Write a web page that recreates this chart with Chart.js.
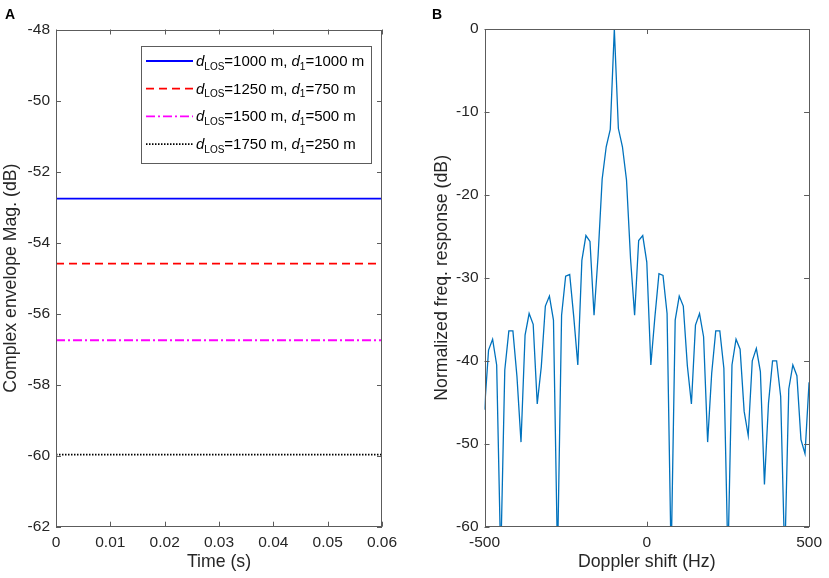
<!DOCTYPE html>
<html>
<head>
<meta charset="utf-8">
<script src="https://cdn.jsdelivr.net/npm/chart.js@4.4.0/dist/chart.umd.min.js"></script>
<style>
    body { margin: 0; background: #fff; font-family: "Liberation Sans", Arial, sans-serif; }
    #page { position: relative; width: 829px; height: 578px; overflow: hidden; }
    canvas { position: absolute; top: 0; }
    #chartA { left: 0; }
    #chartB { left: 420px; }
    .tag { position: absolute; top: 7px; font-size: 14px; line-height: 14px; font-weight: bold; color: #000; }
</style>
</head>
<body>
<div id="page">
    <canvas id="chartA" width="420" height="578"></canvas>
    <canvas id="chartB" width="409" height="578"></canvas>
    <div class="tag" style="left:5px">A</div>
    <div class="tag" style="left:432px">B</div>
</div>
<script>
// ---- panel A data ----
const timeRange = [0, 0.06];
const timeTicks = [0, 0.01, 0.02, 0.03, 0.04, 0.05, 0.06];
const magTicks = [-62, -60, -58, -56, -54, -52, -50, -48];
const losDistances = [1000, 1250, 1500, 1750];
const reflDistances = [1000, 750, 500, 250];
const envelopeDb = [-52.76, -54.59, -56.75, -59.97];

// ---- panel B data ----
const dopplerHz = [
    -500, -487.5, -475, -462.5, -450, -437.5, -425, -412.5, -400, -387.5,
    -375, -362.5, -350, -337.5, -325, -312.5, -300, -287.5, -275, -262.5,
    -250, -237.5, -225, -212.5, -200, -187.5, -175, -162.5, -150, -137.5,
    -125, -112.5, -100, -87.5, -75, -62.5, -50, -37.5, -25, -12.5,
    0, 12.5, 25, 37.5, 50, 62.5, 75, 87.5, 100, 112.5,
    125, 137.5, 150, 162.5, 175, 187.5, 200, 212.5, 225, 237.5,
    250, 262.5, 275, 287.5, 300, 312.5, 325, 337.5, 350, 362.5,
    375, 387.5, 400, 412.5, 425, 437.5, 450, 462.5, 475, 487.5, 500
];
const responseDb = [
    -45.9, -38.7, -37.4, -40.5, -64, -41.1, -36.4, -36.4, -41.9, -49.8,
    -36.9, -34.3, -35.6, -45.2, -40.7, -33.4, -32.2, -35.1, -64, -34.5,
    -29.8, -29.6, -34.7, -40.5, -27.9, -24.9, -25.6, -34.5, -27.3, -18.1,
    -14.2, -12.1, 0, -12.0, -14.2, -18.2, -27.7, -34.5, -25.5, -24.9,
    -28.1, -40.5, -34.7, -29.5, -29.7, -34.3, -64, -35.1, -32.2, -33.4,
    -40.6, -45.2, -35.7, -34.3, -37.1, -49.8, -41.5, -36.4, -36.4, -40.9,
    -64, -40.5, -37.4, -38.6, -46.1, -49.0, -40.0, -38.5, -41.3, -54.9,
    -45.1, -40.0, -40.0, -44.3, -64, -43.4, -40.5, -41.8, -49.5, -51.2, -42.6
];
const dopplerTicks = [-500, 0, 500];
const responseTicks = [-60, -50, -40, -30, -20, -10, 0];

// line looks for the four envelope curves
const lineStyles = [
    { color: "#0000ff", dash: [], width: 1.8 },
    { color: "#ff0000", dash: [8, 5], width: 1.8 },
    { color: "#ff00ff", dash: [9, 3, 2, 3], width: 1.8 },
    { color: "#000000", dash: [1.5, 1.5], width: 1.6 }
];

const FONT = "'Liberation Sans', Arial, sans-serif";
const TEXT = "#262626";
const AXIS = "#5c5c5c";

// MATLAB style box with inward ticks on all four sides
const axesBox = {
    id: "axesBox",
    afterDatasetsDraw(chart) {
        const { ctx, chartArea: a, scales: { x, y } } = chart;
        const len = 5;
        ctx.save();
        ctx.strokeStyle = AXIS;
        ctx.lineWidth = 1;
        ctx.beginPath();
        x.ticks.forEach(t => {
            const px = Math.round(x.getPixelForValue(t.value)) + 0.5;
            ctx.moveTo(px, a.bottom); ctx.lineTo(px, a.bottom - len);
            ctx.moveTo(px, a.top); ctx.lineTo(px, a.top + len);
        });
        y.ticks.forEach(t => {
            const py = Math.round(y.getPixelForValue(t.value)) + 0.5;
            ctx.moveTo(a.left, py); ctx.lineTo(a.left + len, py);
            ctx.moveTo(a.right, py); ctx.lineTo(a.right - len, py);
        });
        ctx.stroke();
        ctx.strokeRect(Math.round(a.left) + 0.5, Math.round(a.top) + 0.5,
            Math.round(a.width) - 1, Math.round(a.height) - 1);
        ctx.restore();
    }
};

// text with italic d and subscripts
function drawRich(ctx, parts, x, y) {
    parts.forEach(p => {
        const size = p.sub ? 10 : 15;
        ctx.font = (p.italic ? "italic " : "") + size + "px " + FONT;
        ctx.fillText(p.t, x, p.sub ? y + 3.5 : y);
        x += ctx.measureText(p.t).width;
    });
}

const envelopeLegend = {
    id: "envelopeLegend",
    afterDraw(chart) {
        const { ctx, chartArea: a } = chart;
        const bx = a.right - 241, by = a.top + 16, bw = 230, bh = 117;
        ctx.save();
        ctx.fillStyle = "#fff";
        ctx.fillRect(bx, by, bw, bh);
        ctx.strokeStyle = AXIS;
        ctx.lineWidth = 1;
        ctx.strokeRect(Math.round(bx) + 0.5, Math.round(by) + 0.5, bw, bh);
        chart.data.datasets.forEach((ds, i) => {
            const ry = by + 15.5 + i * 27.7;
            const st = lineStyles[i];
            ctx.strokeStyle = st.color;
            ctx.lineWidth = st.width;
            ctx.setLineDash(st.dash);
            ctx.beginPath();
            ctx.moveTo(bx + 5, ry);
            ctx.lineTo(bx + 52, ry);
            ctx.stroke();
            ctx.setLineDash([]);
            ctx.fillStyle = "#000";
            ctx.textBaseline = "alphabetic";
            drawRich(ctx, [
                { t: "d", italic: true }, { t: "LOS", sub: true },
                { t: "=" + losDistances[i] + " m, " },
                { t: "d", italic: true }, { t: "1", sub: true },
                { t: "=" + reflDistances[i] + " m" }
            ], bx + 55, ry + 5);
        });
        ctx.restore();
    }
};

function makeScales(o) {
    return {
        x: {
            type: "linear", min: o.xMin, max: o.xMax,
            afterBuildTicks: s => { s.ticks = o.xTicks.map(v => ({ value: v })); },
            afterFit: s => { s.height = 51.3; },
            grid: { display: false, drawTicks: false },
            border: { display: false },
            ticks: { autoSkip: false, maxRotation: 0, padding: 7, color: TEXT, font: { family: FONT, size: 15.5 } },
            title: { display: true, text: o.xTitle, color: TEXT, padding: { top: 0, bottom: 5 }, font: { family: FONT, size: 17.7 } }
        },
        y: {
            type: "linear", min: o.yMin, max: o.yMax,
            afterBuildTicks: s => { s.ticks = o.yTicks.map(v => ({ value: v })); },
            afterFit: s => { s.width = o.yWidth; },
            grid: { display: false, drawTicks: false },
            border: { display: false },
            ticks: { padding: 6, color: TEXT, font: { family: FONT, size: 15.5 } },
            title: { display: true, text: o.yTitle, color: TEXT, padding: { top: o.yTitlePad, bottom: 0 }, font: { family: FONT, size: 17.7 } }
        }
    };
}

const common = {
    responsive: false,
    animation: false,
    plugins: { legend: { display: false }, tooltip: { enabled: false } },
    elements: { point: { radius: 0 }, line: { tension: 0 } }
};

new Chart(document.getElementById("chartA"), {
    type: "line",
    data: {
        datasets: envelopeDb.map((lvl, i) => ({
            data: timeRange.map(t => ({ x: t, y: lvl })),
            borderColor: lineStyles[i].color,
            borderDash: lineStyles[i].dash,
            borderWidth: lineStyles[i].width,
            clip: 0
        }))
    },
    options: Object.assign({}, common, {
        layout: { padding: { top: 29.5, right: 38, left: 0, bottom: 0 } },
        scales: makeScales({
            xMin: 0, xMax: 0.06, xTicks: timeTicks, xTitle: "Time (s)",
            yMin: -62, yMax: -48, yTicks: magTicks, yTitle: "Complex envelope Mag. (dB)",
            yWidth: 56, yTitlePad: 0.5
        })
    }),
    plugins: [axesBox, envelopeLegend]
});

new Chart(document.getElementById("chartB"), {
    type: "line",
    data: {
        datasets: [{
            data: dopplerHz.map((f, i) => ({ x: f, y: responseDb[i] })),
            borderColor: "#0072BD",
            borderWidth: 1.3,
            clip: 0
        }]
    },
    options: Object.assign({}, common, {
        layout: { padding: { top: 29, right: 17, left: 0, bottom: 0 } },
        scales: makeScales({
            xMin: -500, xMax: 500, xTicks: dopplerTicks, xTitle: "Doppler shift (Hz)",
            yMin: -60, yMax: 0, yTicks: responseTicks, yTitle: "Normalized freq. response (dB)",
            yWidth: 64.5, yTitlePad: 11.5
        })
    }),
    plugins: [axesBox]
});
</script>
</body>
</html>
